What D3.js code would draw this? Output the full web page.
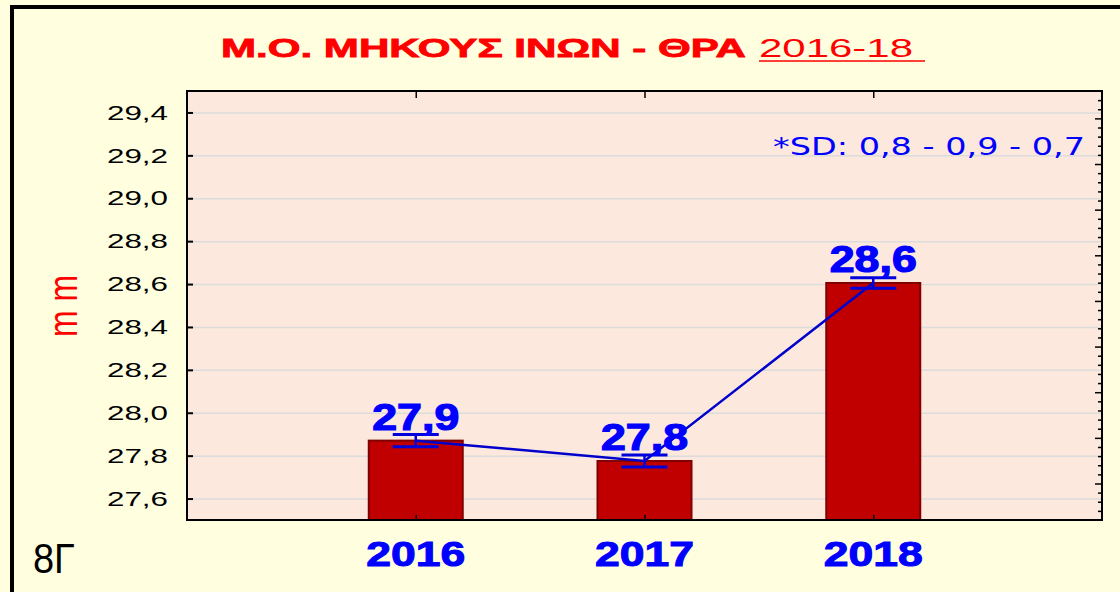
<!DOCTYPE html>
<html>
<head>
<meta charset="utf-8">
<script src="https://cdn.jsdelivr.net/npm/d3@7"></script>
<style>
  body { margin: 0; background: #ffffe0; }
  svg { display: block; }
</style>
</head>
<body>
<script>
var years = [2016, 2017, 2018];
var means = [27.87, 27.775, 28.605];
var errs = [0.029, 0.028, 0.024];
var valueLabels = ["27,9", "27,8", "28,6"];
var yTicks = [27.6, 27.8, 28.0, 28.2, 28.4, 28.6, 28.8, 29.0, 29.2, 29.4];

var w = 1120,
    h = 592;

var svg = d3.select("body").append("svg")
    .attr("width", w)
    .attr("height", h);

var font = "'Liberation Sans', Arial, sans-serif";

// outer frame
svg.append("rect")
    .attr("x", 12).attr("y", 7)
    .attr("width", w).attr("height", h)
    .attr("fill", "#ffffe0")
    .attr("stroke", "#000")
    .attr("stroke-width", 4);

var pLeft = 187, pRight = 1102, pTop = 91, pBottom = 520;

var x = d3.scaleLinear().domain([2015, 2019]).range([pLeft, pRight]);
var y = d3.scaleLinear().domain([27.5, 29.5]).range([pBottom, pTop]);
var minor = d3.scaleLinear().domain([0, 47]).range([pBottom, pTop]);

svg.append("rect")
    .attr("x", pLeft).attr("y", pTop)
    .attr("width", pRight - pLeft).attr("height", pBottom - pTop)
    .attr("fill", "#fce8dc");

// grid
svg.append("g")
    .attr("transform", "translate(" + pLeft + ",0)")
    .call(d3.axisLeft(y).tickValues(yTicks).tickSize(-(pRight - pLeft)).tickFormat(""))
    .call(function(g) {
      g.select(".domain").remove();
      g.selectAll("line").attr("stroke", "#dcdcdc").attr("stroke-width", 1.5);
    });

// bars
var bw = 94;
svg.append("g").selectAll("rect")
    .data(years)
  .enter().append("rect")
    .attr("x", function(d) { return x(d) - bw / 2; })
    .attr("y", function(d, i) { return y(means[i]); })
    .attr("width", bw)
    .attr("height", function(d, i) { return pBottom - y(means[i]); })
    .attr("fill", "#c00000")
    .attr("stroke", "#800000")
    .attr("stroke-width", 2);

// left axis
svg.append("g")
    .attr("transform", "translate(" + pLeft + ",0)")
    .call(d3.axisLeft(y).tickValues(yTicks).tickSize(-6).tickPadding(19)
      .tickFormat(function(d) { return d3.format(".1f")(d).replace(".", ","); }))
    .call(function(g) {
      g.select(".domain").remove();
      g.selectAll("line").attr("stroke", "#000").attr("stroke-width", 2);
      g.selectAll("text")
          .attr("font-family", font)
          .attr("font-size", 21)
          .attr("fill", "#000")
          .attr("textLength", 61)
          .attr("lengthAdjust", "spacingAndGlyphs");
    });

// right axis minor ticks
svg.append("g")
    .attr("transform", "translate(" + pRight + ",0)")
    .call(d3.axisRight(minor).tickValues(d3.range(1, 47)).tickFormat(""))
    .call(function(g) {
      g.select(".domain").remove();
      g.selectAll("line")
          .attr("x2", function(d) { return d % 5 === 4 ? -7 : -4; })
          .attr("stroke", "#000").attr("stroke-width", 1.5);
    });

// top / bottom category ticks
svg.append("g")
    .attr("transform", "translate(0," + pTop + ")")
    .call(d3.axisTop(x).tickValues(years).tickSize(-7).tickFormat(""))
    .call(function(g) {
      g.select(".domain").remove();
      g.selectAll("line").attr("stroke", "#000").attr("stroke-width", 1.5);
    });
svg.append("g")
    .attr("transform", "translate(0," + pBottom + ")")
    .call(d3.axisBottom(x).tickValues(years).tickSize(-5).tickFormat(""))
    .call(function(g) {
      g.select(".domain").remove();
      g.selectAll("line").attr("stroke", "#000").attr("stroke-width", 1.5);
    });

// frame
svg.append("rect")
    .attr("x", pLeft).attr("y", pTop)
    .attr("width", pRight - pLeft).attr("height", pBottom - pTop)
    .attr("fill", "none")
    .attr("stroke", "#000")
    .attr("stroke-width", 2);

// x labels
svg.append("g").selectAll("text")
    .data(years)
  .enter().append("text")
    .attr("x", function(d) { return x(d); })
    .attr("y", 566)
    .attr("text-anchor", "middle")
    .attr("font-family", font)
    .attr("font-weight", "bold")
    .attr("font-size", 35)
    .attr("fill", "#0000ff")
    .attr("stroke", "#0000ff")
    .attr("stroke-width", 1)
    .attr("textLength", 99)
    .attr("lengthAdjust", "spacingAndGlyphs")
    .text(function(d) { return d; });

// mean line
var line = d3.line()
    .x(function(d) { return x(d); })
    .y(function(d, i) { return y(means[i]); });
svg.append("path")
    .datum(years)
    .attr("d", line)
    .attr("fill", "none")
    .attr("stroke", "#0000cc")
    .attr("stroke-width", 2.5);

// error bars
var eb = svg.append("g").selectAll("g")
    .data(years)
  .enter().append("g")
    .attr("stroke", "#0000dd")
    .attr("stroke-width", 3);
eb.append("line")
    .attr("x1", function(d) { return x(d); })
    .attr("x2", function(d) { return x(d); })
    .attr("y1", function(d, i) { return y(means[i] + errs[i]); })
    .attr("y2", function(d, i) { return y(means[i] - errs[i]); })
    .attr("stroke-width", 2.5);
eb.append("line")
    .attr("x1", function(d) { return x(d) - 23; })
    .attr("x2", function(d) { return x(d) + 23; })
    .attr("y1", function(d, i) { return y(means[i] + errs[i]); })
    .attr("y2", function(d, i) { return y(means[i] + errs[i]); });
eb.append("line")
    .attr("x1", function(d) { return x(d) - 23; })
    .attr("x2", function(d) { return x(d) + 23; })
    .attr("y1", function(d, i) { return y(means[i] - errs[i]); })
    .attr("y2", function(d, i) { return y(means[i] - errs[i]); });

// value labels
svg.append("g").selectAll("text")
    .data(years)
  .enter().append("text")
    .attr("x", function(d) { return x(d); })
    .attr("y", function(d, i) { return y(means[i]) - 11; })
    .attr("text-anchor", "middle")
    .attr("font-family", font)
    .attr("font-weight", "bold")
    .attr("font-size", 36)
    .attr("fill", "#0000ff")
    .attr("stroke", "#0000ff")
    .attr("stroke-width", 1.2)
    .attr("textLength", 87)
    .attr("lengthAdjust", "spacingAndGlyphs")
    .text(function(d, i) { return valueLabels[i]; });

// title
svg.append("text")
    .attr("x", 221).attr("y", 57)
    .attr("font-family", font)
    .attr("font-weight", "bold")
    .attr("font-size", 26)
    .attr("fill", "#ff0000")
    .attr("stroke", "#ff0000")
    .attr("stroke-width", 0.8)
    .attr("textLength", 525)
    .attr("lengthAdjust", "spacingAndGlyphs")
    .text("Μ.Ο. ΜΗΚΟΥΣ ΙΝΩΝ - ΘΡΑ");
svg.append("text")
    .attr("x", 759).attr("y", 57)
    .attr("font-family", font)
    .attr("font-size", 26)
    .attr("fill", "#ff0000")
    .attr("textLength", 154)
    .attr("lengthAdjust", "spacingAndGlyphs")
    .text("2016-18");
svg.append("line")
    .attr("x1", 759).attr("x2", 925)
    .attr("y1", 61).attr("y2", 61)
    .attr("stroke", "#ff0000")
    .attr("stroke-width", 1.5);

// SD note
svg.append("text")
    .attr("x", 773).attr("y", 155)
    .attr("font-family", "'DejaVu Sans', sans-serif")
    .attr("font-size", 25)
    .attr("fill", "#0000ff")
    .attr("textLength", 312)
    .attr("lengthAdjust", "spacingAndGlyphs")
    .text("*SD: 0,8 - 0,9 - 0,7");

// y label
svg.append("text")
    .attr("transform", "translate(77,306) scale(1.25,1) rotate(-90)")
    .attr("text-anchor", "middle")
    .attr("font-family", font)
    .attr("font-size", 32)
    .attr("fill", "#ff0000")
    .attr("textLength", 62)
    .attr("lengthAdjust", "spacingAndGlyphs")
    .text("m m");

// corner label
svg.append("text")
    .attr("x", 33).attr("y", 573)
    .attr("font-family", font)
    .attr("font-size", 42)
    .attr("fill", "#000")
    .attr("textLength", 42)
    .attr("lengthAdjust", "spacingAndGlyphs")
    .text("8Γ");
</script>
</body>
</html>
